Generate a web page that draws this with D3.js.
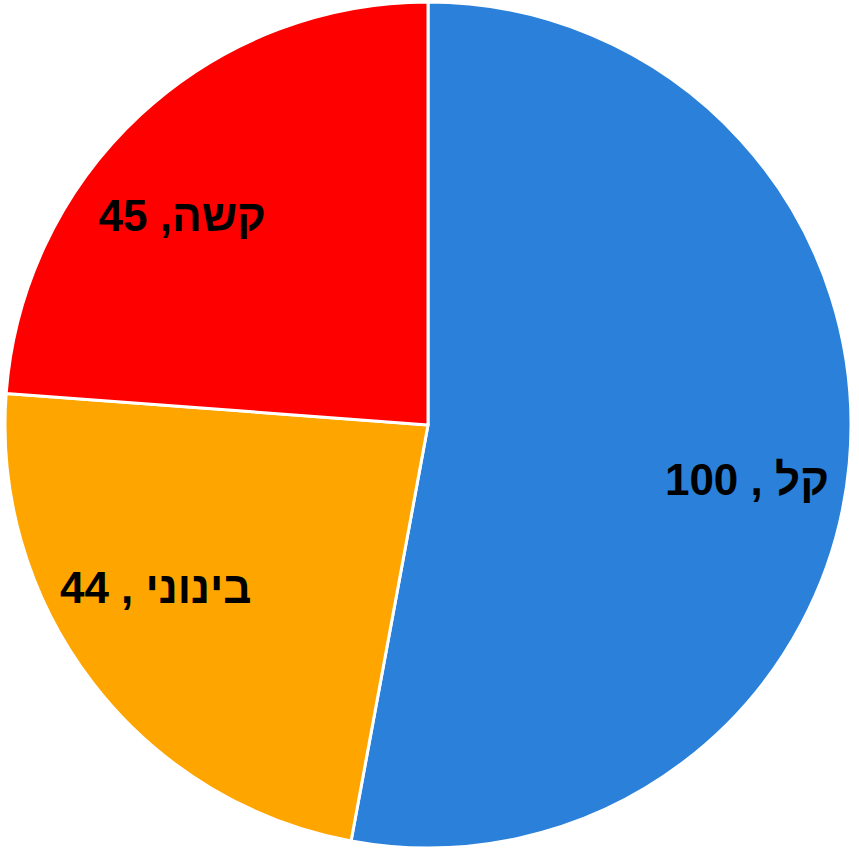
<!DOCTYPE html>
<html><head><meta charset="utf-8">
<script src="https://cdn.jsdelivr.net/npm/d3@7"></script>
<style>html,body{margin:0;padding:0;background:#fff;}</style>
</head><body>
<svg id="c" width="859" height="851"></svg>
<script>
const categories = ["קל", "בינוני", "קשה"];
const values = [100, 44, 45];
const separators = [" , ", " , ", ", "];
const colors = ["#2b81d9", "#ffa500", "#ff0000"];

// layout
const cx = 428, cy = 425, R = 423, labelR = 0.75 * R;
const labelShift = [[3, 41], [-21, -16], [-30, 39]];

const svg = d3.select("#c");
const g = svg.append("g").attr("transform", `translate(${cx},${cy})`);
const data = categories.map((c, i) => ({cat: c, value: values[i], i}));
const pie = d3.pie().value(d => d.value).sort(null);
const arcs = pie(data);
const arc = d3.arc().innerRadius(0).outerRadius(R);
const labelArc = d3.arc().innerRadius(labelR).outerRadius(labelR);

g.selectAll("path").data(arcs).join("path")
  .attr("d", arc)
  .attr("fill", d => colors[d.data.i])
  .attr("stroke", "#fff")
  .attr("stroke-width", 3)
  .attr("stroke-linejoin", "round");

g.selectAll("text").data(arcs).join("text")
  .attr("transform", d => {
    const [x, y] = labelArc.centroid(d);
    const s = labelShift[d.data.i];
    return `translate(${x + s[0]},${y + s[1]})`;
  })
  .attr("text-anchor", "middle")
  .attr("direction", "rtl")
  .style("white-space", "pre")
  .attr("font-family", "'Liberation Sans', Arial, 'DejaVu Sans', sans-serif")
  .attr("font-weight", "bold")
  .attr("font-size", 44)
  .attr("fill", "#000")
  .text(d => d.data.cat + separators[d.data.i] + d.data.value);
</script>
</body></html>
